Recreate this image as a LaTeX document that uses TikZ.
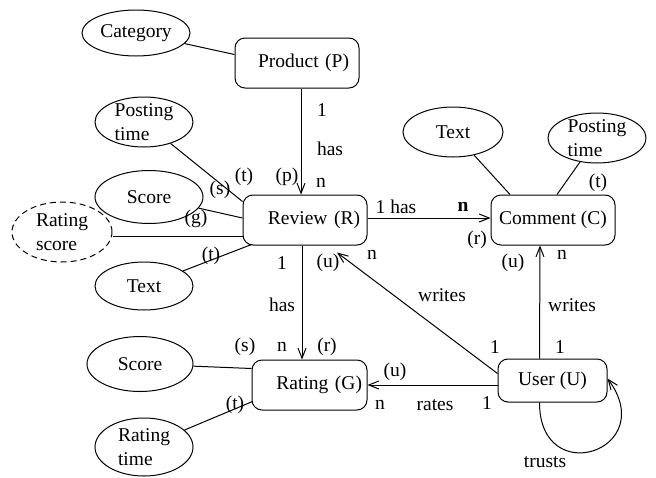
\documentclass[tikz,border=0pt]{standalone}
\usepackage{fontspec}
\setmainfont{Liberation Serif}
\usetikzlibrary{shapes.geometric, arrows.meta, positioning, calc}

\begin{document}
\begin{tikzpicture}[
    x=1pt, y=-1pt,
    every node/.style={font=\fontsize{19.5}{24}\selectfont},
    entity/.style={rectangle, rounded corners=10pt, draw, line width=1pt, minimum height=50pt, inner ysep=0pt},
    attr/.style={ellipse, draw, line width=1pt, inner sep=0pt},
    attrtext/.style={align=left, inner sep=0pt},
    lbl/.style={inner sep=0pt},
    link/.style={line width=1pt},
    rel/.style={line width=1pt, -{Straight Barb[length=10pt,width=8pt]}}
]
\useasboundingbox (0,0) rectangle (656,477);

% entities
\node[entity, text width=104pt, inner xsep=10pt, align=right] (P) at (297,63) {Product (P)};
\node[entity, text width=110pt, inner xsep=7pt, align=right] (R) at (305,220) {Review (R)};
\node[entity, minimum width=124pt] (C) at (553,220) {Comment (C)};
\node[entity, text width=105pt, inner xsep=5pt, align=right] (G) at (309.5,385) {Rating (G)};
\node[entity, minimum width=109pt, minimum height=43pt] (U) at (552.5,380.5) {User (U)};

% attributes
\node[attr, minimum width=108pt, minimum height=46pt] (catP) at (136,33) {Category};
\node[attr, minimum width=98pt, minimum height=50pt,
      label={[attrtext]center:Posting\\time}] (ptR) at (144,122) {};
\node[attr, minimum width=108pt, minimum height=53pt] (scR) at (149,197) {Score};
\node[attr, dash pattern=on 6pt off 4pt, minimum width=100pt, minimum height=60pt,
      label={[attrtext]center:Rating\\score}] (rsR) at (62,232) {};
\node[attr, minimum width=98pt, minimum height=48pt] (txR) at (144,286) {Text};
\node[attr, minimum width=100pt, minimum height=50pt] (txC) at (453,132) {Text};
\node[attr, minimum width=98pt, minimum height=50pt,
      label={[attrtext]center:Posting\\time}] (ptC) at (597,138) {};
\node[attr, minimum width=106pt, minimum height=55pt] (scG) at (140,364) {Score};
\node[attr, minimum width=98pt, minimum height=58pt,
      label={[attrtext]center:Rating\\time}] (rtG) at (144,447) {};

% attribute links
\draw[link] (catP) -- ([yshift=-17pt]P.north west);
\draw[link] (ptR) -- ([yshift=-7pt]R.north west);
\draw[link] (scR) -- ([yshift=2pt]R.west);
\draw[link] (rsR.east |- 0,236) -- ([yshift=-16pt]R.west);
\draw[link] (txR) -- ([xshift=9pt,yshift=1pt]R.south west);
\draw[link] (txC) -- ([xshift=-43pt]C.north);
\draw[link] (ptC) -- ([xshift=4pt]C.north);
\draw[link] (scG) -- ([yshift=-9pt]G.north west);
\draw[link] (rtG) -- ([xshift=1pt,yshift=9pt]G.south west);

% relationships
\draw[rel] ([xshift=4pt]P.south) -- ([xshift=-4pt]R.north);
\draw[rel] ([yshift=2pt]R.east) -- ([yshift=2pt]C.west);
\draw[rel] ([xshift=-3pt]R.south) -- ([xshift=-3pt]R.south |- G.north);
\draw[rel] ([xshift=-13pt]U.north) -- ([xshift=-13pt]C.south);
\draw[rel] ([yshift=7pt]U.west) -- ([xshift=32pt,yshift=-7pt]R.south);
\draw[rel] (U.west |- G.east) -- (G.east);
\draw[rel] ([xshift=-13pt]U.south) .. controls +(0,88) and +(53,72) .. ([yshift=2pt]U.east);

% labels
\node[lbl] (pr1) at (322,110) {1};
\node[lbl] (prh) at (330,149) {has};
\node[lbl] (prn) at (321,183) {n};
\node[lbl] (prp) at (287,177) {(p)};
\node[lbl] (rt1) at (244,177) {(t)};
\node[lbl] (rs) at (220,190) {(s)};
\node[lbl] (rg) at (196,219) {(g)};
\node[lbl] (rt2) at (211,256) {(t)};

\node[lbl] (rch) at (396,207) {1 has};
\node[lbl] (rcn) at (463,207) {\textbf{n}};
\node[lbl] (rcr) at (477,240) {(r)};
\node[lbl] (ct) at (598,183) {(t)};
\node[lbl] (cu) at (513,263) {(u)};
\node[lbl] (cn) at (562,255) {n};

\node[lbl] (ru) at (328,263) {(u)};
\node[lbl] (rn) at (372,255) {n};
\node[lbl] (uw1) at (442,295) {writes};
\node[lbl] (uw2) at (572,305) {writes};
\node[lbl] (u1a) at (495,347) {1};
\node[lbl] (u1b) at (560,347) {1};

\node[lbl] (rg1) at (282,263) {1};
\node[lbl] (rgh) at (282,305) {has};
\node[lbl] (rgn) at (282,347) {n};
\node[lbl] (gs) at (245,347) {(s)};
\node[lbl] (gr) at (327,347) {(r)};
\node[lbl] (gt) at (235,405) {(t)};

\node[lbl] (gu) at (395,372) {(u)};
\node[lbl] (gn) at (380,405) {n};
\node[lbl] (ur) at (435,405) {rates};
\node[lbl] (u1c) at (487,403) {1};
\node[lbl] (ut) at (545,462) {trusts};
\end{tikzpicture}
\end{document}
